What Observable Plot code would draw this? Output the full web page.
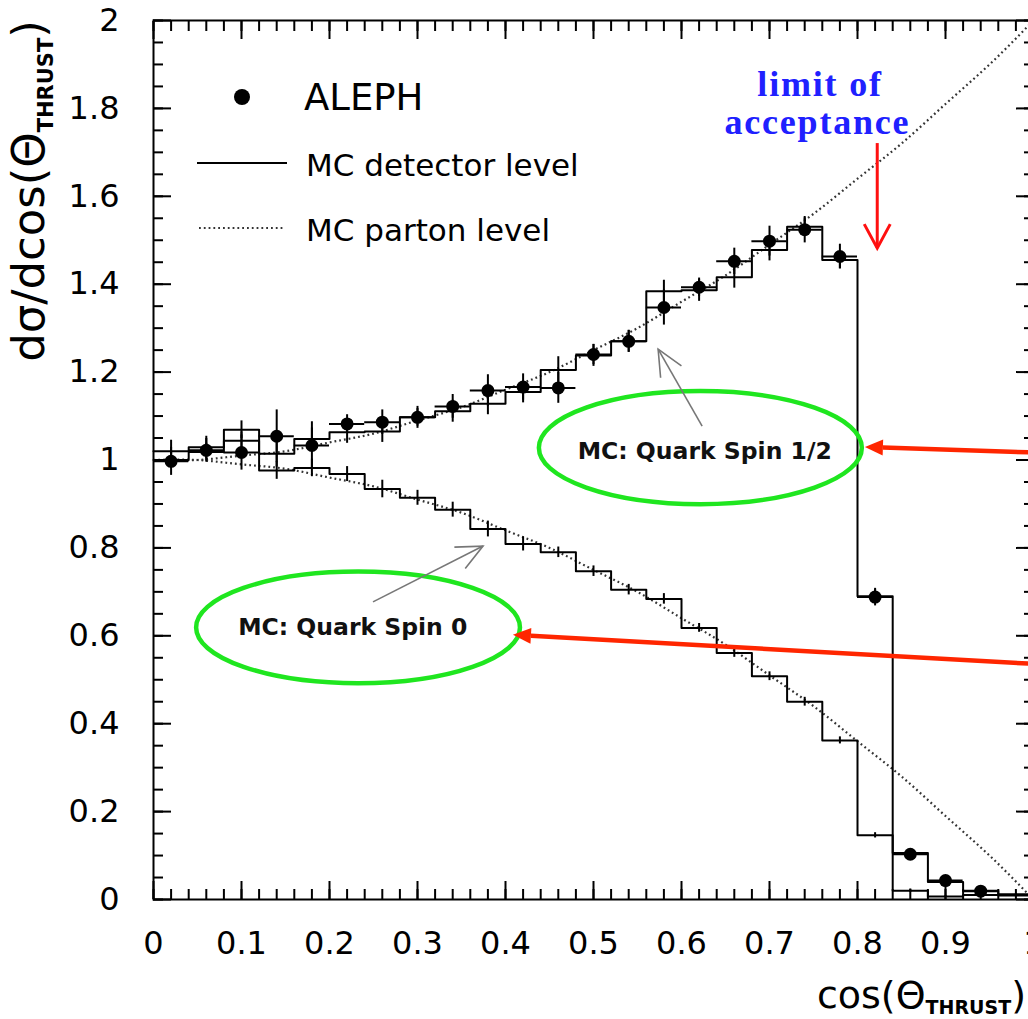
<!DOCTYPE html>
<html><head><meta charset="utf-8">
<script src="https://cdn.jsdelivr.net/npm/d3@7"></script>
<script src="https://cdn.jsdelivr.net/npm/@observablehq/plot@0.6"></script>
<style>
html,body{margin:0;padding:0;background:#fff;}
#chart svg{display:block;overflow:hidden;}
</style></head>
<body><div id="chart"></div>
<script>
// ---------- data ----------
const binEdges = [0,0.04,0.08,0.12,0.16,0.20,0.24,0.28,0.32,0.36,0.40,0.44,0.48,0.52,0.56,0.60,0.64,0.68,0.72,0.76,0.80,0.84,0.88,0.92,0.96,1.00];
const binCenters = [0.02,0.06,0.10,0.14,0.18,0.22,0.26,0.30,0.34,0.38,0.42,0.46,0.50,0.54,0.58,0.62,0.66,0.70,0.74,0.78,0.82,0.86,0.90,0.94,0.98];

// MC detector level, quark spin 1/2
const mcSpinHalf = [1.020,1.029,1.069,1.014,1.048,1.063,1.065,1.097,1.111,1.128,1.155,1.205,1.238,1.270,1.384,1.386,1.416,1.478,1.531,1.455,0.690,0.106,0.040,0.020,0.009];
const mcSpinHalfErr = [0.025,0.025,0.02,0.03,0.025,0.025,0.025,0.025,0.025,0.025,0.025,0.03,0.025,0.025,0.025,0.025,0.025,0.025,0.02,0.02,0.015,0.008,0.005,0.004,0.003];
// MC detector level, quark spin 0
const mcSpinZero = [1.000,1.018,1.044,0.976,0.982,0.968,0.934,0.914,0.887,0.843,0.809,0.790,0.747,0.705,0.684,0.618,0.561,0.508,0.450,0.362,0.146,0.020,0.007,0.010,0.012];
const mcSpinZeroErr = [0.02,0.02,0.02,0.02,0.02,0.017,0.02,0.017,0.017,0.018,0.016,0.012,0.012,0.012,0.012,0.01,0.01,0.01,0.01,0.008,0.006,0.004,0.002,0.002,0.002];

// ALEPH data
const alephX = [0.02,0.06,0.10,0.14,0.18,0.22,0.26,0.30,0.34,0.38,0.42,0.46,0.50,0.54,0.58,0.62,0.66,0.70,0.74,0.78,0.82,0.86,0.90,0.94];
const alephY = [0.997,1.022,1.017,1.054,1.033,1.082,1.086,1.097,1.122,1.158,1.166,1.164,1.240,1.270,1.347,1.393,1.452,1.498,1.524,1.463,0.688,0.103,0.043,0.019];
const alephErr = [0.032,0.027,0.04,0.06,0.054,0.021,0.028,0.02,0.027,0.036,0.03,0.035,0.023,0.025,0.04,0.021,0.03,0.034,0.03,0.028,0.02,0.01,0.008,0.005];

// MC parton level curves
const partonX = [0,0.05,0.10,0.15,0.20,0.25,0.30,0.35,0.40,0.45,0.50,0.55,0.60,0.65,0.70,0.75,0.80,0.85,0.90,0.95,1.00];
const partonSpinHalf = [1.00,1.00,1.01,1.02,1.04,1.06,1.09,1.12,1.16,1.20,1.25,1.30,1.36,1.42,1.49,1.56,1.64,1.72,1.81,1.90,2.00];
const partonSpinZero = [1.00,1.00,0.99,0.98,0.96,0.94,0.91,0.88,0.84,0.80,0.75,0.70,0.64,0.58,0.51,0.44,0.36,0.28,0.19,0.10,0.00];

// tick labels
const xTickLabels = [0,0.1,0.2,0.3,0.4,0.5,0.6,0.7,0.8,0.9,1];
const yTickLabels = [0,0.2,0.4,0.6,0.8,1,1.2,1.4,1.6,1.8,2];
const xMinor = d3.range(0, 51).map(i => +(i*0.02).toFixed(3));
const yMinor = d3.range(0, 41).map(i => +(i*0.05).toFixed(3));

// ---------- tables ----------
const stepRows = vals => binEdges.map((e,i) => ({x: e, y: vals[Math.min(i, vals.length-1)]}));
const errRows = (vals, errs) => binCenters.map((c,i) => ({x: c, y1: vals[i]-errs[i], y2: vals[i]+errs[i]}));
const parton = partonX.map((x,i) => ({x, half: partonSpinHalf[i], zero: partonSpinZero[i]}));
const aleph = alephX.map((x,i) => ({x, y: alephY[i], e: alephErr[i]}));

const FONT = "DejaVu Sans, Liberation Sans, Arial, sans-serif";
const DOTS = "1.8 3";
const DOTCOLOR = "#333";
const noText = () => "";

const chart = Plot.plot({
  width: 1028, height: 1019,
  marginLeft: 153, marginRight: -5, marginTop: 20, marginBottom: 120,
  x: {domain: [0, 1]},
  y: {domain: [0, 2]},
  style: {fontFamily: FONT, background: "white", color: "black"},
  marks: [
    Plot.line(parton, {x: "x", y: "half", curve: "natural", stroke: DOTCOLOR, strokeWidth: 2.2, strokeDasharray: DOTS, strokeLinecap: "butt"}),
    Plot.line(parton, {x: "x", y: "zero", curve: "natural", stroke: DOTCOLOR, strokeWidth: 2.2, strokeDasharray: DOTS, strokeLinecap: "butt"}),
    Plot.line(stepRows(mcSpinHalf), {x: "x", y: "y", curve: "step-after", stroke: "black", strokeWidth: 2}),
    Plot.line(stepRows(mcSpinZero), {x: "x", y: "y", curve: "step-after", stroke: "black", strokeWidth: 2}),
    Plot.ruleX(errRows(mcSpinHalf, mcSpinHalfErr), {x: "x", y1: "y1", y2: "y2", stroke: "black", strokeWidth: 2}),
    Plot.ruleX(errRows(mcSpinZero, mcSpinZeroErr), {x: "x", y1: "y1", y2: "y2", stroke: "black", strokeWidth: 2}),
    Plot.ruleY(aleph, {y: "y", x1: d => d.x - 0.02, x2: d => d.x + 0.02, stroke: "black", strokeWidth: 2}),
    Plot.ruleX(aleph, {x: "x", y1: d => d.y - d.e, y2: d => d.y + d.e, stroke: "black", strokeWidth: 2}),
    Plot.dot(aleph, {x: "x", y: "y", r: 6.5, fill: "black", stroke: "none"}),
    Plot.frame({stroke: "black", strokeWidth: 2}),
    // inward ticks, all four sides
    Plot.axisX({ticks: xMinor, anchor: "bottom", tickSize: -10, tickFormat: noText, strokeWidth: 2, label: null}),
    Plot.axisX({ticks: xTickLabels, anchor: "bottom", tickSize: -18, tickFormat: noText, strokeWidth: 2, label: null}),
    Plot.axisX({ticks: xMinor, anchor: "top", tickSize: -10, tickFormat: noText, strokeWidth: 2, label: null}),
    Plot.axisX({ticks: xTickLabels, anchor: "top", tickSize: -18, tickFormat: noText, strokeWidth: 2, label: null}),
    Plot.axisY({ticks: yMinor, anchor: "left", tickSize: -10, tickFormat: noText, strokeWidth: 2, label: null}),
    Plot.axisY({ticks: yTickLabels, anchor: "left", tickSize: -18, tickFormat: noText, strokeWidth: 2, label: null}),
    Plot.axisY({ticks: yMinor, anchor: "right", tickSize: -10, tickFormat: noText, strokeWidth: 2, label: null}),
    Plot.axisY({ticks: yTickLabels, anchor: "right", tickSize: -18, tickFormat: noText, strokeWidth: 2, label: null}),
    // labels
    Plot.axisX({ticks: xTickLabels, anchor: "bottom", tickSize: 0, tickPadding: 32, tickFormat: d => String(d), fontSize: 32, label: null}),
    Plot.axisY({ticks: yTickLabels, anchor: "left", tickSize: 0, tickPadding: 34, tickFormat: d => String(d), fontSize: 32, label: null})
  ]
});
document.getElementById("chart").appendChild(chart);

// ---------- annotations (positioned in data coordinates through the scales) ----------
const sx = chart.scale("x"), sy = chart.scale("y");
const X = v => sx.apply(v), Y = v => sy.apply(v);
const svg = d3.select(chart);
const g = svg.append("g").attr("text-anchor", "start");

function arrow(x1, y1, x2, y2, o) {
  const px1 = X(x1), py1 = Y(y1), px2 = X(x2), py2 = Y(y2);
  const ang = Math.atan2(py2 - py1, px2 - px1);
  const ux = Math.cos(ang), uy = Math.sin(ang);
  const bx = px2 - ux * o.len, by = py2 - uy * o.len;
  const lx = bx - uy * o.half, ly = by + ux * o.half;
  const rx = bx + uy * o.half, ry = by - ux * o.half;
  const endx = o.filled ? bx : px2, endy = o.filled ? by : py2;
  g.append("line").attr("x1", px1).attr("y1", py1).attr("x2", endx).attr("y2", endy)
    .attr("stroke", o.color).attr("stroke-width", o.width);
  if (o.filled) {
    g.append("path").attr("d", `M${px2},${py2}L${lx},${ly}L${rx},${ry}Z`).attr("fill", o.color);
  } else {
    g.append("path").attr("d", `M${lx},${ly}L${px2},${py2}L${rx},${ry}`)
      .attr("fill", "none").attr("stroke", o.color).attr("stroke-width", o.width);
  }
}

// ellipses with their labels
const ellipses = [
  {cx: 0.622, cy: 1.027, rx: 0.1835, ry: 0.1286, text: "MC: Quark Spin 1/2", tx: 0.627, ty: 1.019},
  {cx: 0.233, cy: 0.618, rx: 0.184, ry: 0.127, text: "MC: Quark Spin 0", tx: 0.227, ty: 0.619}
];
ellipses.forEach(e => {
  g.append("ellipse").attr("cx", X(e.cx)).attr("cy", Y(e.cy))
    .attr("rx", X(e.cx + e.rx) - X(e.cx)).attr("ry", Y(e.cy - e.ry) - Y(e.cy))
    .attr("fill", "none").attr("stroke", "#1fe61f").attr("stroke-width", 4.5);
  g.append("text").attr("x", X(e.tx)).attr("y", Y(e.ty)).attr("text-anchor", "middle")
    .attr("dominant-baseline", "central").attr("font-family", FONT).attr("font-weight", "bold")
    .attr("font-size", 23.5).attr("fill", "#111").text(e.text);
});

// grey pointer arrows
arrow(0.624, 1.076, 0.574, 1.251, {color: "#777", width: 1.6, len: 26, half: 12, filled: false});
arrow(0.250, 0.676, 0.375, 0.803, {color: "#777", width: 1.6, len: 26, half: 12, filled: false});
// red arrows
arrow(1.000, 1.016, 0.809, 1.0285, {color: "#ff2600", width: 4.5, len: 18, half: 8, filled: true});
arrow(1.000, 0.535, 0.409, 0.601, {color: "#ff2600", width: 4.5, len: 18, half: 8, filled: true});
arrow(0.823, 1.720, 0.823, 1.481, {color: "#ff1010", width: 3, len: 24, half: 13, filled: false});

// limit of acceptance
const blue = g.append("text").attr("text-anchor", "middle").attr("font-family", "Liberation Serif, Times New Roman, serif")
  .attr("font-weight", "bold").attr("font-size", 36).attr("letter-spacing", 1.8).attr("fill", "#2020ff");
blue.append("tspan").attr("x", X(0.758)).attr("y", Y(1.827)).text("limit of");
blue.append("tspan").attr("x", X(0.755)).attr("y", Y(1.741)).text("acceptance");

// legend
const L = g.append("g").attr("font-family", FONT).attr("fill", "black").attr("text-anchor", "start");
L.append("circle").attr("cx", 242).attr("cy", 97).attr("r", 8).attr("fill", "black");
L.append("text").attr("x", 304).attr("y", 97).attr("dominant-baseline", "central").attr("font-size", 37).text("ALEPH");
L.append("line").attr("x1", 197).attr("x2", 287).attr("y1", 163).attr("y2", 163).attr("stroke", "black").attr("stroke-width", 2);
L.append("text").attr("x", 306).attr("y", 165).attr("dominant-baseline", "central").attr("font-size", 31).text("MC detector level");
L.append("line").attr("x1", 199).attr("x2", 283).attr("y1", 228).attr("y2", 228).attr("stroke", DOTCOLOR).attr("stroke-width", 2.2).attr("stroke-dasharray", DOTS);
L.append("text").attr("x", 306).attr("y", 230).attr("dominant-baseline", "central").attr("font-size", 31).text("MC parton level");

// axis titles
const yt = g.append("text").attr("transform", "translate(44,191) rotate(-90)").attr("text-anchor", "middle")
  .attr("font-family", FONT).attr("font-size", 45).attr("fill", "black");
yt.append("tspan").text("dσ/dcos(Θ");
yt.append("tspan").attr("font-size", 21).attr("font-weight", "bold").attr("dy", 9).text("THRUST");
yt.append("tspan").attr("dy", -9).text(")");

const xt = g.append("text").attr("x", 1026).attr("y", 1008).attr("text-anchor", "end")
  .attr("font-family", FONT).attr("font-size", 38).attr("fill", "black");
xt.append("tspan").text("cos(Θ");
xt.append("tspan").attr("font-size", 19).attr("font-weight", "bold").attr("dy", 6).text("THRUST");
xt.append("tspan").attr("dy", -6).text(")");
</script>
</body></html>
